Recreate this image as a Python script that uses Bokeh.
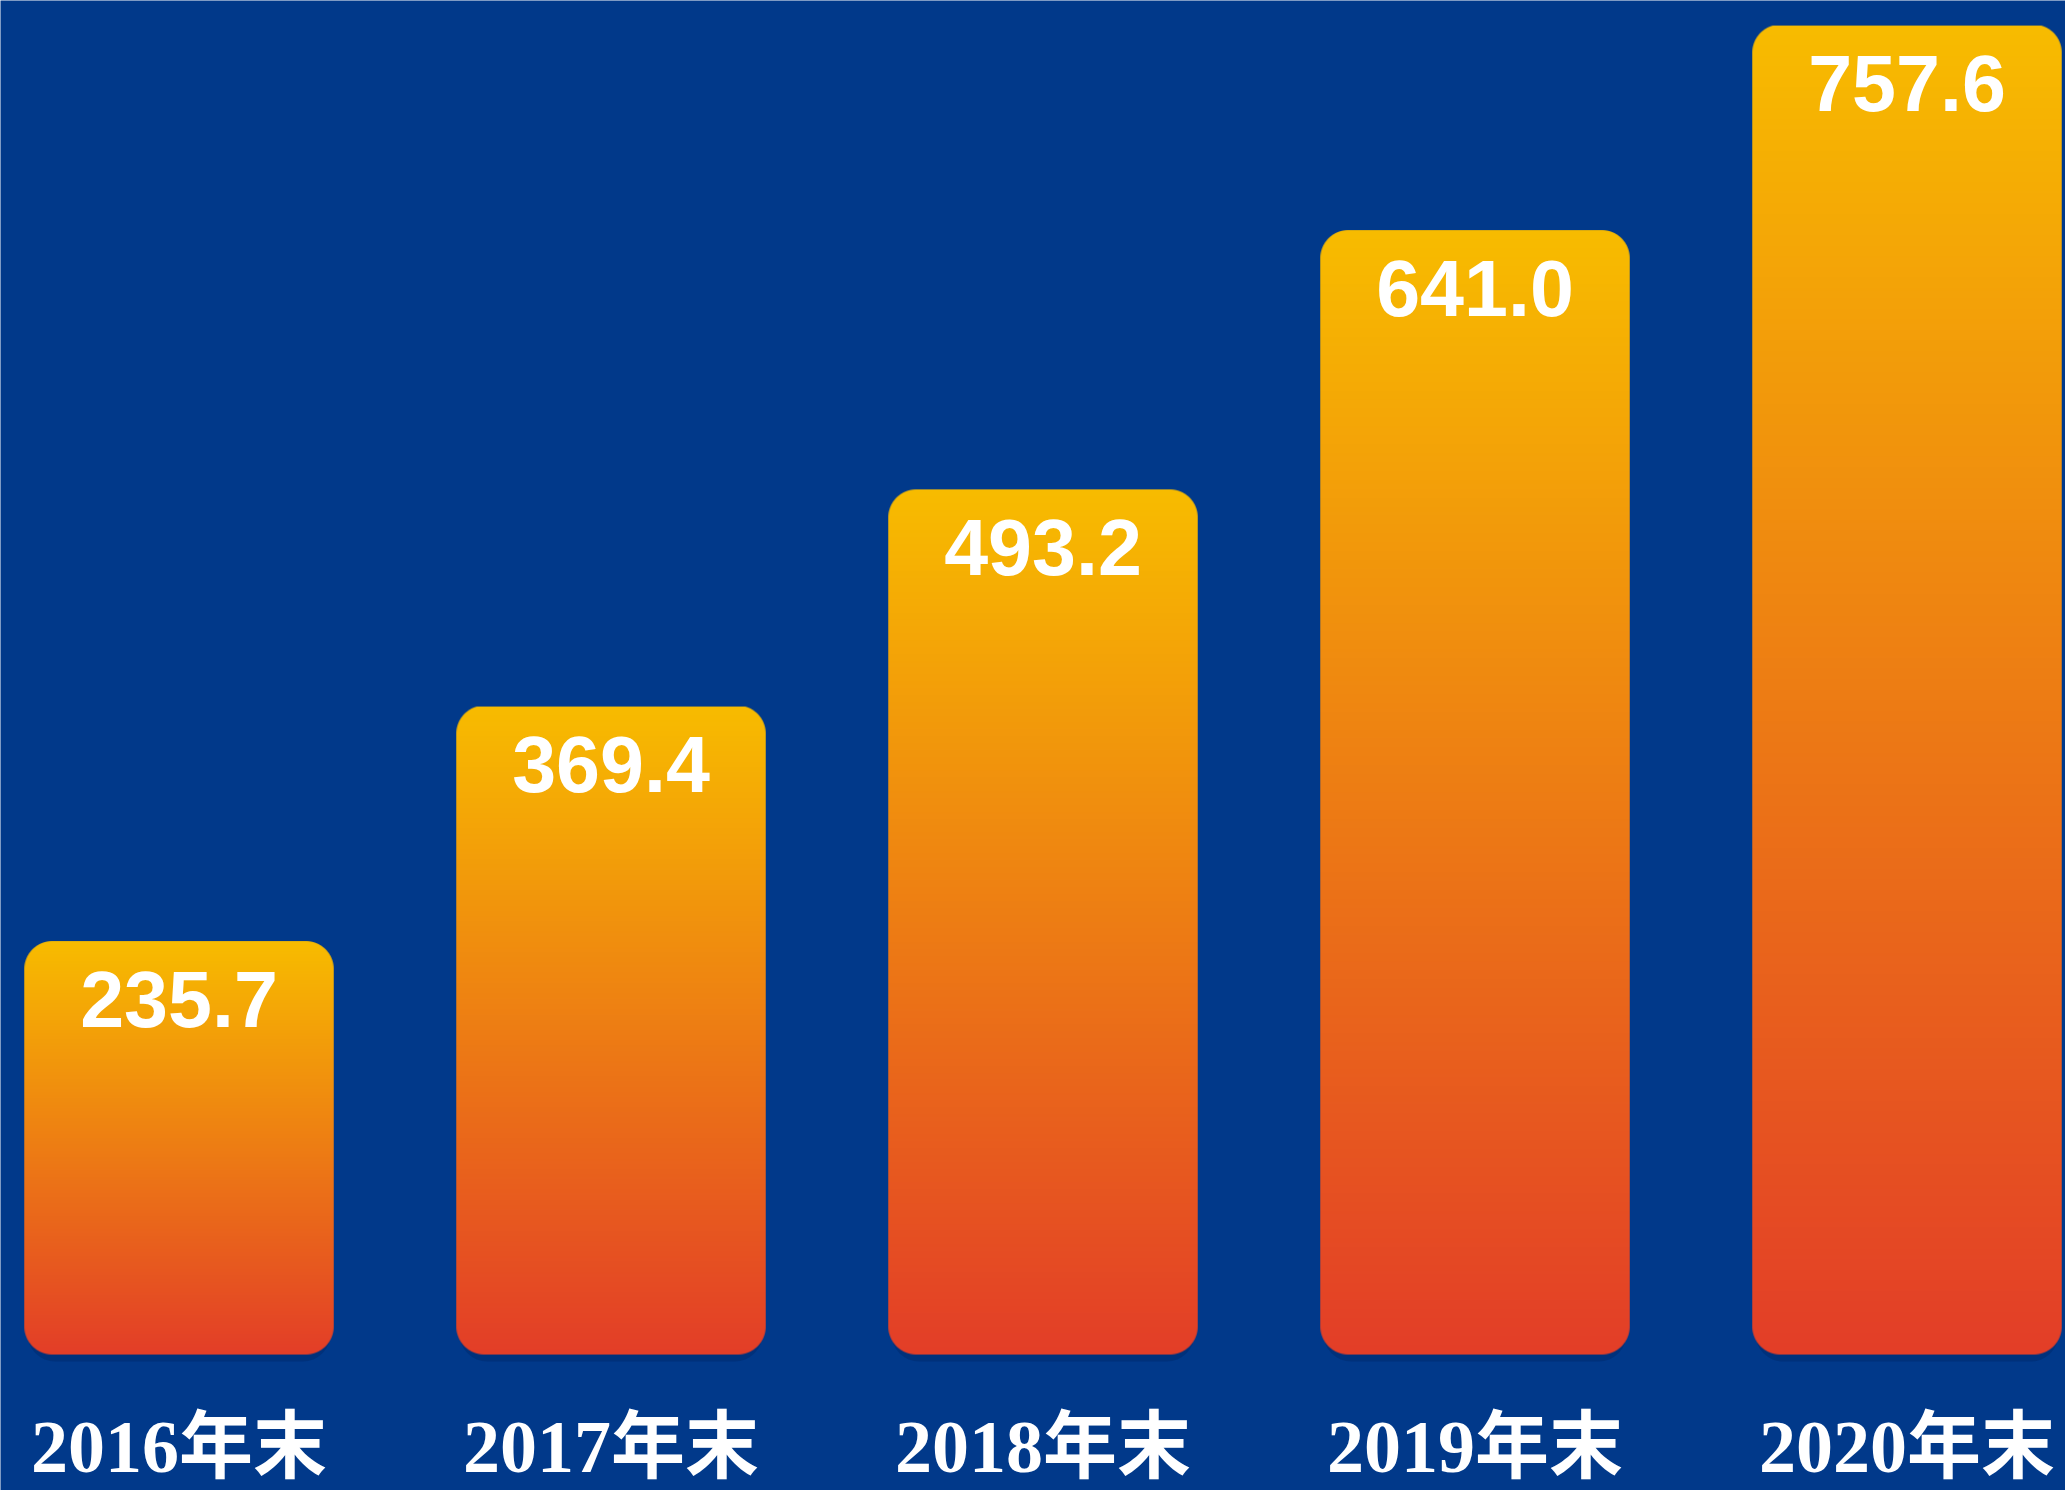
import numpy as np
from bokeh.plotting import figure
from bokeh.models import ColumnDataSource, Range1d
from bokeh.core.properties import value
from bokeh.embed import file_html
from bokeh.resources import INLINE

# ---- data ----
categories = ["2016年末", "2017年末", "2018年末", "2019年末", "2020年末"]
values = [235.7, 369.4, 493.2, 641.0, 757.6]
value_labels = ["235.7", "369.4", "493.2", "641.0", "757.6"]

# ---- style / layout ----
W, H = 2065, 1490
BG = "#01398A"
TOP_RGB = (248, 188, 0)
BOTTOM_RGB = (227, 62, 40)
X0, X1 = -0.4132, 4.3669
Y0, Y1 = -77.5, 771.9
BAR_W = 0.7164
RADIUS_PX = 28

px_per_x = W / (X1 - X0)
px_per_y = H / (Y1 - Y0)


def bar_image(v):
    wpx = int(round(BAR_W * px_per_x))
    hpx = int(round(v * px_per_y))
    rows = np.arange(hpx)[:, None] + 0.5
    cols = np.arange(wpx)[None, :] + 0.5
    t = rows / hpx  # 0 bottom, 1 top
    R = RADIUS_PX
    dx = np.maximum(np.maximum(R - cols, cols - (wpx - R)), 0)
    dy = np.maximum(np.maximum(R - rows, rows - (hpx - R)), 0)
    d = np.sqrt(dx ** 2 + dy ** 2)
    alpha = np.clip(R - d + 0.5, 0, 1)
    img = np.empty((hpx, wpx), dtype=np.uint32)
    view = img.view(dtype=np.uint8).reshape((hpx, wpx, 4))
    for k in range(3):
        view[:, :, k] = np.broadcast_to(
            (BOTTOM_RGB[k] + (TOP_RGB[k] - BOTTOM_RGB[k]) * t).astype(np.uint8), (hpx, wpx))
    view[:, :, 3] = (alpha * 255).astype(np.uint8)
    return img


idx = list(range(len(categories)))
src = ColumnDataSource(dict(
    x=idx,
    left=[i - BAR_W / 2 for i in idx],
    top=values,
    half=[v * 0.5 for v in values],
    img=[bar_image(v) for v in values],
    label=value_labels,
    cat=categories,
    zero=[0] * len(values),
))

p = figure(width=W, height=H, x_range=Range1d(X0, X1), y_range=Range1d(Y0, Y1),
           output_backend="svg", toolbar_location=None,
           x_axis_location=None, y_axis_location=None, min_border=0,
           background_fill_color=BG, border_fill_color=BG, outline_line_color=None)
p.grid.visible = False

# soft shadow under bars (only visible below the bar's bottom edge)
shadow_off = 7 / px_per_y
p.vbar(x="x", top="half", bottom=-shadow_off, width=BAR_W * 0.98, source=src,
       fill_color="#001a50", fill_alpha=0.25, line_color=None, border_radius=RADIUS_PX)

# gradient bars
p.image_rgba(image="img", x="left", y="zero", dw=BAR_W, dh="top", source=src)

# value labels
p.text(x="x", y="top", text="label", source=src, y_offset=58,
       text_align="center", text_baseline="alphabetic",
       text_font=value("Liberation Sans"), text_font_style="bold",
       text_font_size="79px", text_color="white")

# category labels
p.text(x="x", y="zero", text="cat", source=src, y_offset=92,
       text_align="center", text_baseline="alphabetic",
       text_font=value("Liberation Serif, Noto Sans CJK SC"), text_font_style="bold",
       text_font_size="74px", text_color="white")

open("out.html", "w").write(file_html(p, INLINE))
